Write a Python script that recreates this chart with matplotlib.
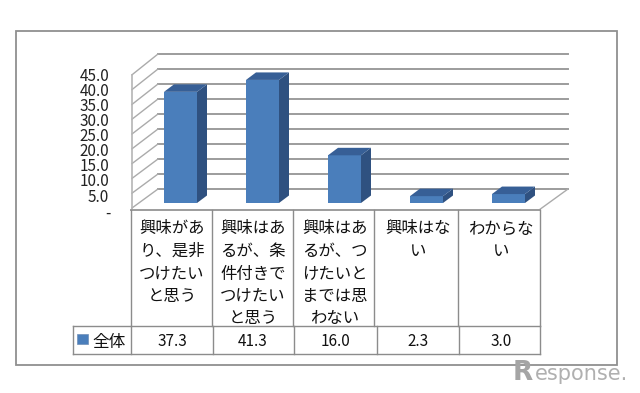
import matplotlib
matplotlib.use('Agg')
import matplotlib.pyplot as plt
from matplotlib.patches import Polygon, Rectangle

plt.rcParams['font.family'] = ['Noto Sans CJK JP', 'DejaVu Sans']

# data
categories = ['興味があ\nり、是非\nつけたい\nと思う',
              '興味はあ\nるが、条\n件付きで\nつけたい\nと思う',
              '興味はあ\nるが、つ\nけたいと\nまでは思\nわない',
              '興味はな\nい',
              'わからな\nい']
values = [37.3, 41.3, 16.0, 2.3, 3.0]
value_labels = ['37.3', '41.3', '16.0', '2.3', '3.0']
series_name = '全体'
ticks = [0, 5, 10, 15, 20, 25, 30, 35, 40, 45]
tick_labels = ['-', '5.0', '10.0', '15.0', '20.0', '25.0', '30.0', '35.0', '40.0', '45.0']

W, H = 640, 393
LINE = '#9c9c9c'
TABLE = '#8c8c8c'
FRONT = '#4a7ebb'
SIDE = '#2f5180'
TOP = '#375f96'

fig = plt.figure(figsize=(W / 100, H / 100), dpi=100)

# pixel axes for walls, table, text
pg = fig.add_axes([0, 0, 1, 1], zorder=0)
pg.set_xlim(0, W)
pg.set_ylim(H, 0)
pg.axis('off')

# value axes for the bars: 82 px per category, 2.98 px per unit
x0, sx, y0, sy = 180.5, 82, 203, 2.98
ax = fig.add_axes([0, 0, 1, 1], zorder=1)
ax.set_xlim((0 - x0) / sx, (W - x0) / sx)
ax.set_ylim((y0 - H) / sy, y0 / sy)
ax.axis('off')
ax.patch.set_alpha(0)

# outer frame
pg.add_patch(Rectangle((15.5, 31), 601.5, 334, fill=False, ec='#909090', lw=1.3))

# walls
for t in ticks:
    back_y = 189 - 3 * t
    front_y = 208 - 14.8 * t / 5
    pg.plot([158, 568], [back_y, back_y], color=LINE, lw=1.4)
    pg.plot([132, 158], [front_y, back_y], color='#ababab', lw=1.0)
pg.plot([131.5, 131.5], [75, 210], color='#b5b5b5', lw=1.2)
pg.plot([539, 568], [210, 189], color='#ababab', lw=1.0)

# tick labels
for t, lab in zip(ticks, tick_labels):
    if t == 0:
        pg.text(111, 213, lab, ha='right', va='center', fontsize=11, color='#222222')
    else:
        pg.text(109, 212.2 - 15.12 * t / 5, lab, ha='right', va='center',
                fontsize=11, color='#222222')

# bars
w = 33 / sx
dx = 10 / sx
dy = 7.5 / sy
xs = list(range(len(values)))
ax.bar(xs, values, width=w, color=FRONT, ec='none', zorder=3)
for x, v in zip(xs, values):
    l, r = x - w / 2, x + w / 2
    ax.add_patch(Polygon([(r, 0), (r + dx, dy), (r + dx, v + dy), (r, v)], color=SIDE, lw=0, zorder=3))
    ax.add_patch(Polygon([(l, v), (l + dx, v + dy), (r + dx, v + dy), (r, v)], color=TOP, lw=0, zorder=3))

# table
upper = [131, 212, 293, 374, 458, 540]
lower = [131, 213, 294, 377, 459, 540]
pg.plot([131, 540], [210, 210], color=LINE, lw=1.4)
pg.plot([73, 540], [326, 326], color=TABLE, lw=1.0)
pg.plot([73, 540], [354, 354], color=TABLE, lw=1.0)
pg.plot([73, 73], [326, 354], color=TABLE, lw=1.0)
for x in upper:
    pg.plot([x, x], [210, 326], color=TABLE, lw=1.0)
for x in lower:
    pg.plot([x, x], [326, 354], color=TABLE, lw=1.0)

centers = [172, 253, 335, 418, 501]
for cx, cat, lab in zip(centers, categories, value_labels):
    for i, line in enumerate(cat.split('\n')):
        pg.text(cx, 229 + 22.5 * i, line, ha='center', va='center', fontsize=11.8, color='#111111')
    pg.text(cx, 342, lab, ha='center', va='center', fontsize=11, color='#111111')

# legend key
pg.add_patch(Rectangle((77, 334), 11, 10, fc=FRONT, ec='#6f8fb8', lw=0.5))
pg.text(109, 342, series_name, ha='center', va='center', fontsize=12, color='#111111')

# watermark
pg.text(513, 380, 'R', ha='left', va='baseline', fontsize=19, fontweight='bold',
        family=['DejaVu Sans'], color='#a5a5a5')
pg.text(535, 380, 'esponse.', ha='left', va='baseline', fontsize=15,
        family=['DejaVu Sans'], color='#b0b0b0')

fig.savefig('out.png', dpi=100)
